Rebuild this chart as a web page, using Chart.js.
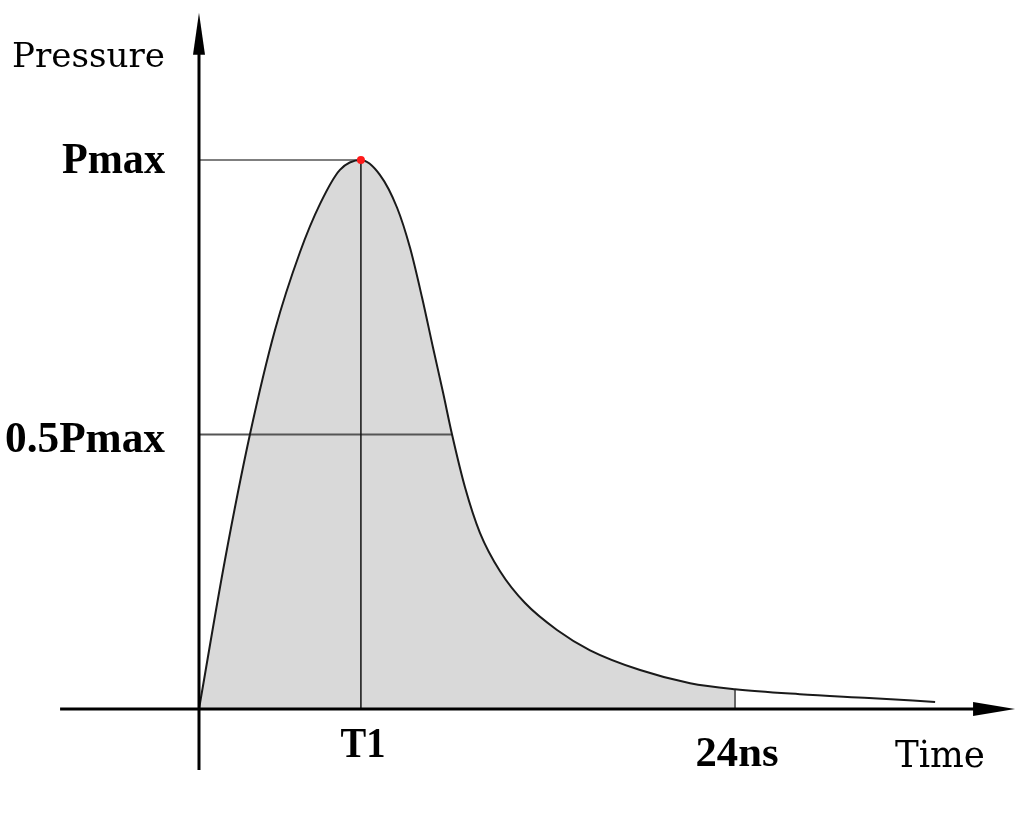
<!DOCTYPE html>
<html>
<head>
<meta charset="utf-8">
<script src="https://cdn.jsdelivr.net/npm/chart.js@4/dist/chart.umd.min.js"></script>
<style>
  body { margin: 0; background: #fff; }
  #wrap { width: 1024px; height: 813px; position: relative; }
</style>
</head>
<body>
<div id="wrap"><canvas id="chart"></canvas></div>
<script>
// ---------------- DATA ----------------
const timeNs = [0, 1.16, 2.28, 3.40, 4.52, 5.42, 6.31, 7.25,
  8.10, 8.87, 9.45, 9.99, 10.48, 10.93, 11.33, 11.91, 12.58, 13.48, 14.60, 16.03, 17.51,
  19.75, 21.99, 24, 26.9, 30.0, 32.96];
const pressure = [0, 0.271, 0.50, 0.690, 0.832, 0.920, 0.982, 1.0,
  0.973, 0.913, 0.840, 0.749, 0.658, 0.576, 0.50, 0.404, 0.321, 0.251, 0.193, 0.144, 0.107,
  0.071, 0.047, 0.036, 0.027, 0.020, 0.013];

const T1 = 7.25;          // time of peak
const pulseEnd = 24;      // 24ns
const halfRight = 11.33;  // where falling edge crosses 0.5Pmax

const yTickValues = [1, 0.5];
const yTickLabels = ["Pmax", "0.5Pmax"];
const xTickValues = [T1, pulseEnd];
const xTickLabels = ["T1", "24ns"];
const yTitle = "Pressure";
const xTitle = "Time";

// ---------------- BUILD POINTS ----------------
const curve = timeNs.map((t, i) => ({ x: t, y: pressure[i] }));
const filled = curve.filter(p => p.x <= pulseEnd);
const p24 = pressure[timeNs.indexOf(pulseEnd)];

const titleFont = '"DejaVu Serif", "Liberation Serif", serif';
const labelFont = '"Liberation Serif", "DejaVu Serif", serif';

// ---------------- TEXT HELPER ----------------
function fitText(ctx, text, x, y, font, width, align) {
  ctx.save();
  ctx.font = font;
  ctx.fillStyle = "#000";
  ctx.textBaseline = "alphabetic";
  ctx.textAlign = "left";
  const w = ctx.measureText(text).width;
  const sx = width / w;
  let left = x;
  if (align === "right") left = x - width;
  if (align === "center") left = x - width / 2;
  ctx.translate(left, y);
  ctx.scale(sx, 1);
  ctx.fillText(text, 0, 0);
  ctx.restore();
}

// ---------------- AXES PLUGIN ----------------
const axesPlugin = {
  id: "arrowAxes",
  afterDatasetsDraw(chart) {
    const ctx = chart.ctx;
    const xs = chart.scales.x;
    const ys = chart.scales.y;
    const x0 = xs.getPixelForValue(0);
    const y0 = ys.getPixelForValue(0);

    ctx.save();
    ctx.strokeStyle = "#000";
    ctx.fillStyle = "#000";
    ctx.lineWidth = 3;

    // y axis
    const yBottom = ys.getPixelForValue(-0.111);
    const yTip = ys.getPixelForValue(1.268);
    ctx.beginPath();
    ctx.moveTo(x0, yBottom);
    ctx.lineTo(x0, yTip + 30);
    ctx.stroke();
    ctx.beginPath();
    ctx.moveTo(x0, yTip);
    ctx.lineTo(x0 - 6, yTip + 42);
    ctx.lineTo(x0 + 6, yTip + 42);
    ctx.closePath();
    ctx.fill();

    // x axis
    const xLeft = xs.getPixelForValue(-6.22);
    const xTip = xs.getPixelForValue(36.54);
    ctx.beginPath();
    ctx.moveTo(xLeft, y0);
    ctx.lineTo(xTip - 30, y0);
    ctx.stroke();
    ctx.beginPath();
    ctx.moveTo(xTip, y0);
    ctx.lineTo(xTip - 42, y0 - 7);
    ctx.lineTo(xTip - 42, y0 + 7);
    ctx.closePath();
    ctx.fill();
    ctx.restore();

    // titles
    fitText(ctx, yTitle, x0 - 187, ys.getPixelForValue(1.17), "34px " + titleFont, 153, "left");
    fitText(ctx, xTitle, xs.getPixelForValue(31.16), y0 + 58, "38px " + titleFont, 90, "left");

    // y tick labels
    const yWidths = [103, 160];
    const yOffsets = [13, 17];
    yTickValues.forEach((v, i) => {
      fitText(ctx, yTickLabels[i], x0 - 34, ys.getPixelForValue(v) + yOffsets[i],
        "bold 44px " + labelFont, yWidths[i], "right");
    });

    // x tick labels
    const xWidths = [45, 83];
    const xBase = [48, 57];
    xTickValues.forEach((v, i) => {
      fitText(ctx, xTickLabels[i], xs.getPixelForValue(v) + 2, y0 + xBase[i],
        "bold 42px " + labelFont, xWidths[i], "center");
    });
  }
};

// ---------------- CHART ----------------
function makeChart() {
  return new Chart(document.getElementById("chart"), {
    type: "line",
    data: {
      datasets: [
        {
          // peak dot
          data: [{ x: T1, y: 1 }],
          showLine: false,
          pointRadius: 4,
          pointBackgroundColor: "#ff1a1a",
          pointBorderWidth: 0,
          order: 1
        },
        {
          // pulse curve
          data: curve,
          borderColor: "#1a1a1a",
          borderWidth: 2,
          pointRadius: 0,
          fill: false,
          cubicInterpolationMode: "monotone",
          order: 2
        },
        {
          // T1 vertical
          data: [{ x: T1, y: 0 }, { x: T1, y: 1 }],
          borderColor: "#111",
          borderWidth: 1.5,
          pointRadius: 0,
          order: 3
        },
        {
          // Pmax guide
          data: [{ x: 0, y: 1 }, { x: T1, y: 1 }],
          borderColor: "#555",
          borderWidth: 1.5,
          pointRadius: 0,
          order: 3
        },
        {
          // 0.5Pmax guide
          data: [{ x: 0, y: 0.5 }, { x: halfRight, y: 0.5 }],
          borderColor: "#555",
          borderWidth: 2,
          pointRadius: 0,
          order: 3
        },
        {
          // 24ns vertical
          data: [{ x: pulseEnd, y: 0 }, { x: pulseEnd, y: p24 }],
          borderColor: "#666",
          borderWidth: 2,
          pointRadius: 0,
          order: 3
        },
        {
          // shaded area up to 24ns
          data: filled,
          borderWidth: 0,
          borderColor: "rgba(0,0,0,0)",
          backgroundColor: "#d9d9d9",
          pointRadius: 0,
          fill: "origin",
          cubicInterpolationMode: "monotone",
          order: 5
        }
      ]
    },
    options: {
      responsive: true,
      maintainAspectRatio: false,
      animation: false,
      layout: { padding: 0, autoPadding: false },
      plugins: {
        legend: { display: false },
        tooltip: { enabled: false }
      },
      scales: {
        x: { type: "linear", min: -8.91, max: 36.94, display: false },
        y: { type: "linear", min: -0.1894, max: 1.2914, display: false }
      }
    },
    plugins: [axesPlugin]
  });
}

Promise.all([
  document.fonts.load("34px " + titleFont),
  document.fonts.load("bold 44px " + labelFont)
]).then(makeChart, makeChart);
</script>
</body>
</html>
